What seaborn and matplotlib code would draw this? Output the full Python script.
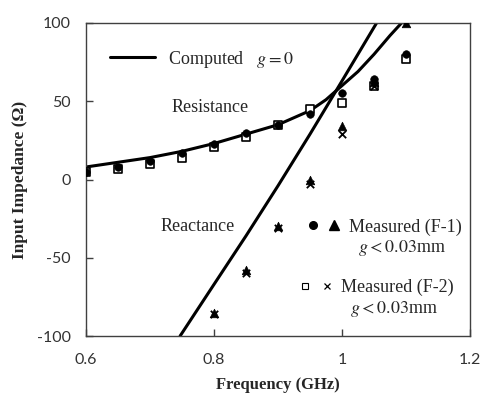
import numpy as np
import pandas as pd
import matplotlib
matplotlib.use('Agg')
import matplotlib.pyplot as plt
import seaborn as sns
from matplotlib.lines import Line2D
from matplotlib.legend_handler import HandlerTuple

# computed (g = 0)
comp_r_freq = [0.6, 0.65, 0.7, 0.75, 0.8, 0.85, 0.9, 0.95, 0.975, 1.0, 1.025, 1.05, 1.075, 1.093]
comp_r = [8, 11, 14, 18, 23, 29, 35, 44, 51, 60, 69, 80, 92, 100]
comp_x_freq = [0.747, 0.8, 0.85, 0.9, 0.95, 1.0, 1.054]
comp_x = [-100, -67, -36, -4, 29, 63, 100]

# measured
meas_freq = [0.6, 0.65, 0.7, 0.75, 0.8, 0.85, 0.9, 0.95, 1.0, 1.05, 1.1]
f1_r = [5, 8, 12, 17, 23, 30, 35, 42, 55, 64, 80]
f2_r = [5, 7, 10, 14, 21, 27, 35, 45, 49, 60, 77]
react_freq = [0.8, 0.85, 0.9, 0.95, 1.0, 1.05, 1.1]
f1_x = [-85, -58, -30, 0, 34, 62, 100]
f2_x = [-86, -60, -31, -3, 29, 60, 104]

sns.set_style('ticks')
plt.rcParams['mathtext.fontset'] = 'stix'
serif = 'Liberation Serif'
tickfont = 'Lato'

fig = plt.figure(figsize=(4.89, 3.93), dpi=100)
ax = fig.add_axes([0.1759, 0.145, 0.7853, 0.7965])

sns.lineplot(x=comp_r_freq, y=comp_r, color='black', lw=2.2, ax=ax)
sns.lineplot(x=comp_x_freq, y=comp_x, color='black', lw=2.2, ax=ax)

sns.scatterplot(x=meas_freq, y=f2_r, marker='s', s=30, facecolor='white',
                edgecolor='black', linewidth=1.2, ax=ax, zorder=3)
sns.scatterplot(x=meas_freq, y=f1_r, marker='o', s=30, color='black',
                edgecolor='black', ax=ax, zorder=3)
sns.scatterplot(x=react_freq, y=f2_x, marker='x', s=28, color='black',
                linewidth=1.3, ax=ax, zorder=3)
sns.scatterplot(x=react_freq, y=f1_x, marker='^', s=38, color='black',
                edgecolor='black', ax=ax, zorder=3)

ax.set_xlim(0.6, 1.2)
ax.set_ylim(-100, 100)
ax.set_xticks([0.6, 0.8, 1.0, 1.2])
ax.set_xticklabels(['0.6', '0.8', '1', '1.2'])
ax.set_yticks([-100, -50, 0, 50, 100])
ax.set_yticklabels(['-100', '-50', '0', '50', '100'])

for sp in ax.spines.values():
    sp.set_color('#404040')
    sp.set_linewidth(1.0)
ax.tick_params(axis='both', direction='in', length=5, width=1, color='#404040',
               labelsize=11.5, labelcolor='#333333')
ax.tick_params(axis='x', pad=12)
ax.tick_params(axis='y', pad=11)
for lab in ax.get_xticklabels() + ax.get_yticklabels():
    lab.set_fontfamily(tickfont)

ax.set_ylabel('Input Impedance (Ω)', fontfamily=serif, fontweight='bold', fontsize=12.5)
ax.yaxis.set_label_coords(-0.15, 0.5)
ax.set_xlabel('Frequency (GHz)', fontfamily=serif, fontweight='bold', fontsize=12)
ax.xaxis.set_label_coords(0.5, -0.13)

ax.text(0.794, 46, 'Resistance', fontfamily=serif, fontsize=13, ha='center', va='center')
ax.text(0.775, -30, 'Reactance', fontfamily=serif, fontsize=13, ha='center', va='center')

# legend: computed
h_comp = Line2D([], [], color='black', lw=2.2)
leg1 = ax.legend([h_comp], ['Computed   $g = 0$'], loc='upper left',
                 bbox_to_anchor=(0.02, 0.97), frameon=False, handlelength=2.5,
                 handletextpad=0.7, prop={'family': serif, 'size': 13})
ax.add_artist(leg1)

# legend: measured
h_c = Line2D([], [], marker='o', ls='', color='black', markersize=5.5)
h_t = Line2D([], [], marker='^', ls='', color='black', markersize=7.5)
h_s = Line2D([], [], marker='s', ls='', markerfacecolor='white', markeredgecolor='black',
             markersize=5, markeredgewidth=0.8)
h_x = Line2D([], [], marker='x', ls='', color='black', markersize=5, markeredgewidth=0.9)
blank = Line2D([], [], ls='', marker='')
tuple_map = {tuple: HandlerTuple(ndivide=None, pad=0.6)}
leg_opts = dict(loc='center right', frameon=False, handlelength=1.8, handletextpad=0.5,
                labelspacing=0.15, handler_map=tuple_map, prop={'family': serif, 'size': 13})
leg2 = ax.legend([(h_c, h_t), blank], ['Measured (F-1)', '  $g < 0.03$mm'],
                 bbox_to_anchor=(1.02, 0.312), **leg_opts)
ax.add_artist(leg2)
leg3 = ax.legend([(h_s, h_x), blank], ['Measured (F-2)', '  $g < 0.03$mm'],
                 bbox_to_anchor=(1.0, 0.118), **leg_opts)

fig.savefig('out.png', dpi=100)
